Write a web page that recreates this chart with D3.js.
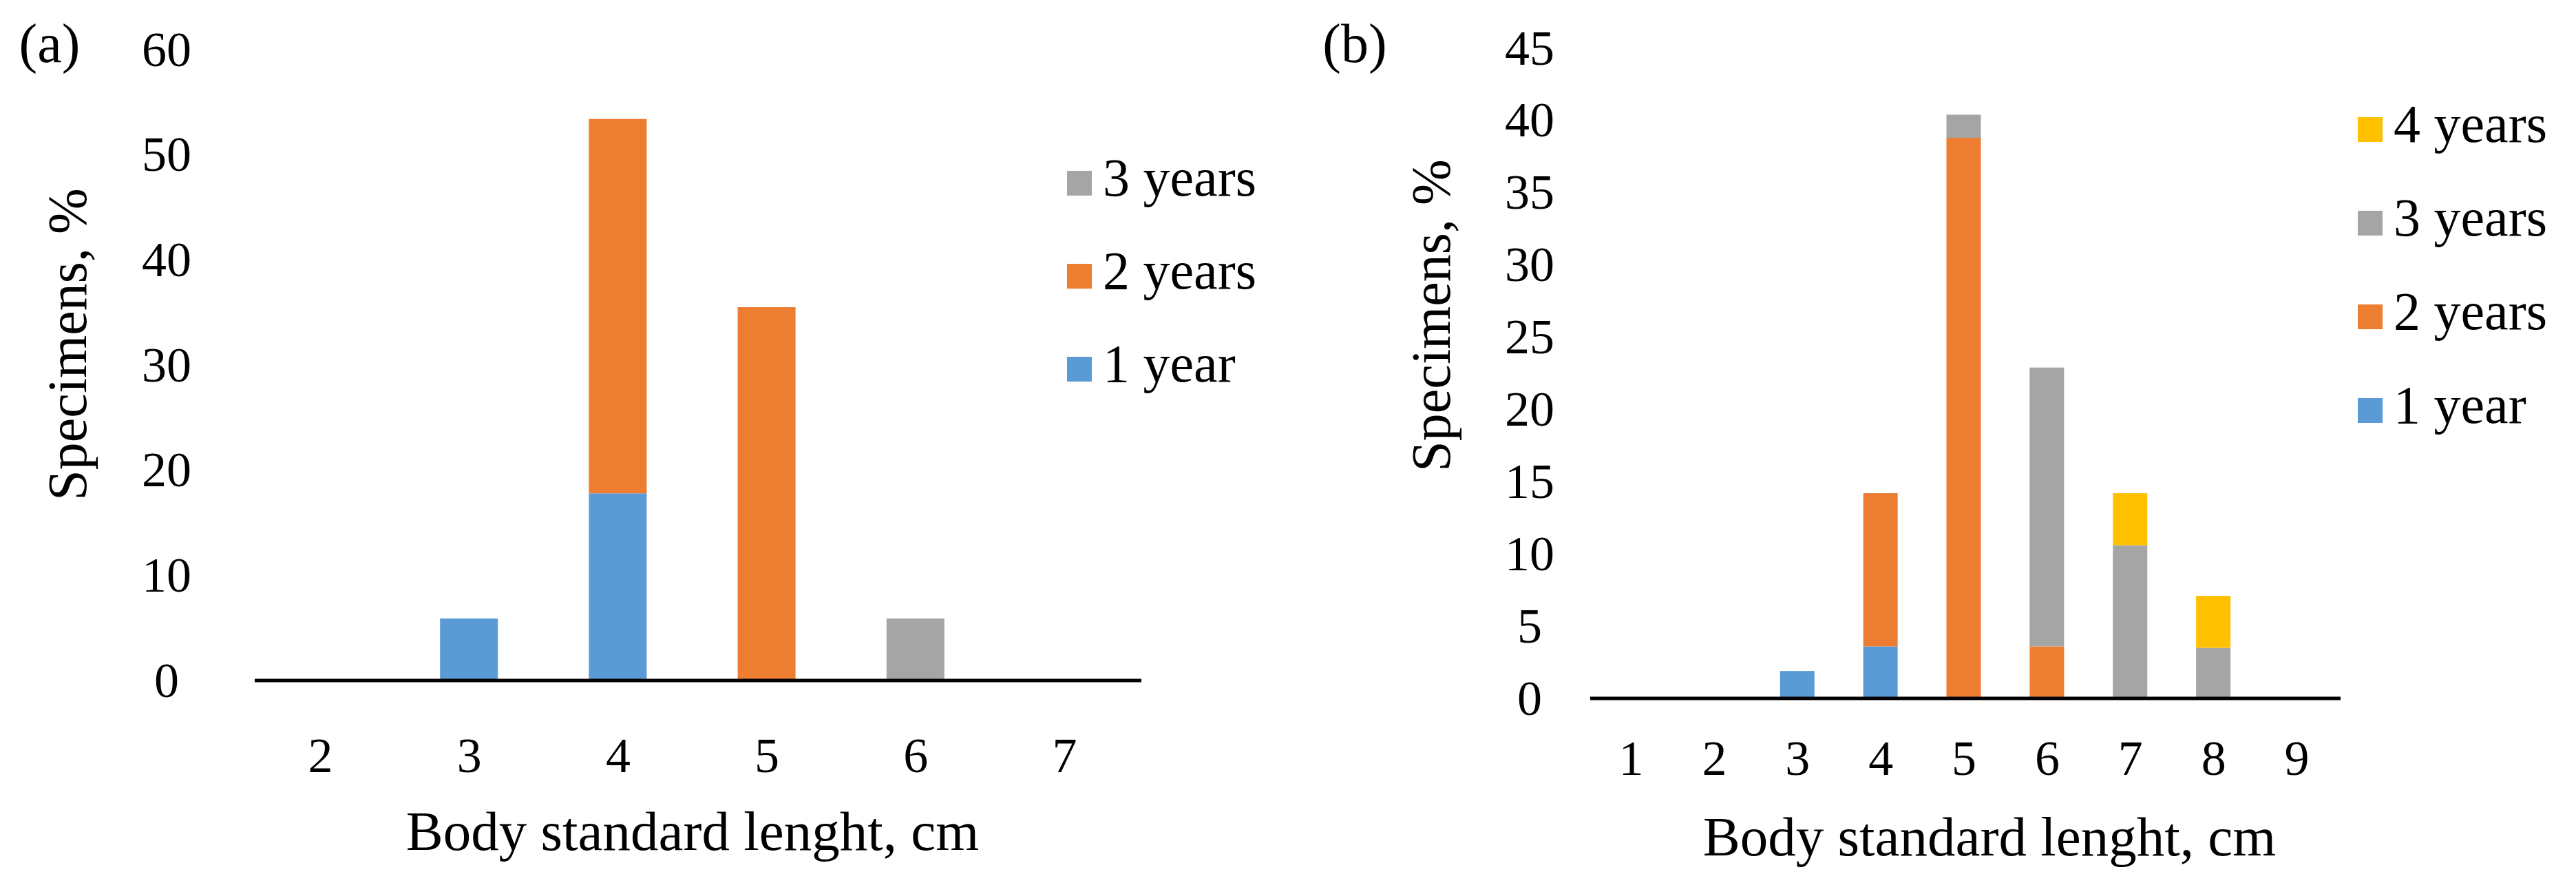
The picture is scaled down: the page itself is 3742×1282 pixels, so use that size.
<!DOCTYPE html>
<html><head><meta charset="utf-8">
<script src="https://cdn.jsdelivr.net/npm/d3@7"></script>
<style>body{margin:0;background:#fff}text{font-family:"Liberation Serif","Times New Roman",serif}</style>
</head><body><svg id="chart" width="3742" height="1282"></svg>
<script>
// panel (a)
const catsA = [2, 3, 4, 5, 6, 7];
const keysA = ["1 year", "2 years", "3 years"];
const oneYearA = [0, 5.9, 17.8, 0, 0, 0];
const twoYearsA = [0, 0, 35.6, 35.5, 0, 0];
const threeYearsA = [0, 0, 0, 0, 5.9, 0];
const ticksA = [0, 10, 20, 30, 40, 50, 60];

// panel (b)
const catsB = [1, 2, 3, 4, 5, 6, 7, 8, 9];
const keysB = ["1 year", "2 years", "3 years", "4 years"];
const oneYearB = [0, 0, 1.9, 3.6, 0, 0, 0, 0, 0];
const twoYearsB = [0, 0, 0, 10.6, 38.8, 3.6, 0, 0, 0];
const threeYearsB = [0, 0, 0, 0, 1.6, 19.3, 10.6, 3.5, 0];
const fourYearsB = [0, 0, 0, 0, 0, 0, 3.6, 3.6, 0];
const ticksB = [0, 5, 10, 15, 20, 25, 30, 35, 40, 45];

const colors = {"1 year": "#5b9bd5", "2 years": "#ed7d31", "3 years": "#a5a5a5", "4 years": "#ffc000"};

const svg = d3.select("#chart");

function drawPanel(p) {
    const g = svg.append("g");
    const rows = p.cats.map((c, i) => {
        let r = {cat: c};
        p.keys.forEach((k, j) => r[k] = p.series[j][i]);
        return r;
    });
    const x = d3.scalePoint().domain(p.cats).range(p.xRange);
    const y = d3.scaleLinear().domain([0, p.ticks[p.ticks.length - 1]]).range(p.yRange);
    const stacked = d3.stack().keys(p.keys)(rows);

    g.selectAll("g.layer")
        .data(stacked)
        .enter()
        .append("g")
        .attr("fill", s => colors[s.key])
        .selectAll("rect")
        .data(s => s.filter(d => d[1] > d[0]))
        .enter()
        .append("rect")
        .attr("x", d => x(d.data.cat) - p.barW / 2)
        .attr("width", p.barW)
        .attr("y", d => y(d[1]))
        .attr("height", d => y(d[0]) - y(d[1]));

    // baseline
    g.append("line")
        .attr("x1", p.lineX[0]).attr("x2", p.lineX[1])
        .attr("y1", y(0)).attr("y2", y(0))
        .attr("stroke", "#000").attr("stroke-width", 5);

    const yAxis = g.append("g")
        .attr("transform", `translate(${p.yLabX},0)`)
        .call(d3.axisLeft(y).tickValues(p.ticks).tickSize(0).tickPadding(0));
    yAxis.select(".domain").remove();
    yAxis.selectAll("text").attr("font-size", 72).attr("fill", "#000")
        .attr("text-anchor", "middle").attr("font-family", "Liberation Serif");

    const xAxis = g.append("g")
        .attr("transform", `translate(0,${p.xLabY})`)
        .call(d3.axisBottom(x).tickSize(0).tickPadding(0));
    xAxis.select(".domain").remove();
    xAxis.selectAll("text").attr("font-size", 72).attr("fill", "#000")
        .attr("font-family", "Liberation Serif").attr("dy", "0.35em");

    g.append("text")
        .attr("x", p.xTitle[0]).attr("y", p.xTitle[1])
        .attr("text-anchor", "middle").attr("dominant-baseline", "middle")
        .attr("font-size", 81).text("Body standard lenght, cm");

    g.append("text")
        .attr("transform", `translate(${p.yTitle[0]},${p.yTitle[1]}) rotate(-90)`)
        .attr("text-anchor", "middle").attr("dominant-baseline", "middle")
        .attr("font-size", 80).text("Specimens, %");

    g.append("text")
        .attr("x", p.tag[0]).attr("y", p.tag[1])
        .attr("text-anchor", "middle").attr("dominant-baseline", "middle")
        .attr("font-size", 80).text(p.tagText);

    // legend, top-down in reverse order
    const leg = g.selectAll("g.leg")
        .data(p.keys.slice().reverse())
        .enter()
        .append("g")
        .attr("transform", (k, i) => `translate(${p.leg[0]},${p.leg[1] + i * p.leg[2]})`);
    leg.append("rect").attr("x", -18).attr("y", -18).attr("width", 36).attr("height", 36)
        .attr("fill", k => colors[k]);
    leg.append("text").attr("x", 34).attr("dominant-baseline", "middle")
        .attr("font-size", 78).text(k => k);
}

drawPanel({
    cats: catsA, keys: keysA, series: [oneYearA, twoYearsA, threeYearsA], ticks: ticksA,
    xRange: [465, 1546], yRange: [988, 72], barW: 84, lineX: [370, 1658],
    yLabX: 242, xLabY: 1096, xTitle: [1006, 1215], yTitle: [107, 500],
    tag: [72, 72], tagText: "(a)", leg: [1568, 266, 135]
});

drawPanel({
    cats: catsB, keys: keysB, series: [oneYearB, twoYearsB, threeYearsB, fourYearsB], ticks: ticksB,
    xRange: [2369, 3336], yRange: [1014, 70], barW: 50, lineX: [2310, 3400],
    yLabX: 2222, xLabY: 1100, xTitle: [2890, 1223], yTitle: [2088, 458],
    tag: [1968, 72], tagText: "(b)", leg: [3443, 188, 136]
});
</script></body></html>
